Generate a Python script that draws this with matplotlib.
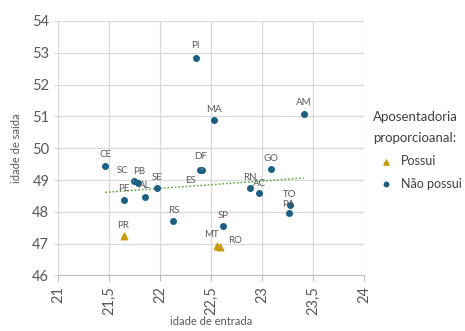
import numpy as np
import matplotlib.pyplot as plt

# ---- data ----
nao_states = ["PI", "MA", "AM", "GO", "CE", "SC", "PB", "SE", "AL", "PE", "DF", "ES",
              "RS", "SP", "RN", "AC", "TO", "PA"]
nao_entrada = [22.35, 22.53, 23.41, 23.09, 21.46, 21.74, 21.78, 21.97, 21.85, 21.64,
               22.41, 22.39, 22.13, 22.62, 22.88, 22.97, 23.27, 23.26]
nao_saida = [52.84, 50.88, 51.09, 49.34, 49.45, 48.96, 48.92, 48.74, 48.48, 48.37,
             49.31, 49.30, 47.70, 47.55, 48.74, 48.59, 48.20, 47.96]

pos_states = ["PR", "MT", "RO"]
pos_entrada = [21.64, 22.56, 22.59]
pos_saida = [47.23, 46.94, 46.89]

xticks = [21, 21.5, 22, 22.5, 23, 23.5, 24]
yticks = [46, 47, 48, 49, 50, 51, 52, 53, 54]

blue = "#1b5f82"
gold = "#c99a0c"
grey = "#595959"

plt.rcParams['font.family'] = ['Lato', 'DejaVu Sans']

fig = plt.figure(figsize=(4.65, 3.31), dpi=100)
ax = fig.add_axes([0.1254, 0.1677, 0.6574, 0.769])

ax.scatter(pos_entrada, pos_saida, marker="^", s=22, color=gold, zorder=3, label="Possui")
ax.scatter(nao_entrada, nao_saida, marker="o", s=16, color=blue, zorder=3, label="Não possui")

# linear trendline over all states
all_x = np.array(nao_entrada + pos_entrada)
all_y = np.array(nao_saida + pos_saida)
z = np.polyfit(all_x, all_y, 1)
p = np.poly1d(z)
xl = np.array([all_x.min(), all_x.max()])
ax.plot(xl, p(xl), linestyle=(0, (1.2, 1.2)), color="#70ad47", lw=1.1, zorder=2)

# data labels (offsets in points)
offsets = {"PI": (0, 9), "MA": (0, 8), "AM": (0, 8), "GO": (0, 8), "CE": (0, 8),
           "PB": (1, 8), "SE": (0, 8), "AL": (0, 8), "PE": (0, 8), "ES": (-7, -7),
           "RS": (0, 8), "SP": (0, 8), "RN": (0, 8), "AC": (0, 7), "TO": (0, 8),
           "PA": (0, 6), "PR": (0, 8), "MT": (-4, 8)}
leaders = {"SC": (-8, 8), "DF": (-1, 10), "RO": (11, 5)}

def label(names, xs, ys):
    for n, x, y in zip(names, xs, ys):
        if n in leaders:
            ax.annotate(n, (x, y), xytext=leaders[n], textcoords="offset points",
                        ha="center", va="center", fontsize=7, color=grey,
                        arrowprops=dict(arrowstyle="-", color="#a6a6a6", lw=0.6,
                                        shrinkA=3, shrinkB=2))
        else:
            dx, dy = offsets[n]
            ax.annotate(n, (x, y), xytext=(dx, dy), textcoords="offset points",
                        ha="center", va="center", fontsize=7, color=grey)

label(nao_states, nao_entrada, nao_saida)
label(pos_states, pos_entrada, pos_saida)

ax.set_xlim(21, 24)
ax.set_ylim(46, 54)
ax.set_xticks(xticks)
ax.set_yticks(yticks)
ax.set_xticklabels([str(t).replace(".", ",") for t in xticks], rotation=90)
ax.grid(True, color="#d9d9d9", lw=0.9)
ax.set_axisbelow(True)
for s in ["top", "right", "left"]:
    ax.spines[s].set_visible(False)
ax.spines["bottom"].set_color("#bfbfbf")
ax.tick_params(axis="x", colors="#bfbfbf", labelcolor=grey, labelsize=10.5, length=4)
ax.tick_params(axis="y", colors="#d9d9d9", labelcolor=grey, labelsize=10.5, length=3)

ax.set_xlabel("idade de entrada", fontsize=8, color=grey, labelpad=1)
ax.set_ylabel("idade de saída", fontsize=8, color=grey, labelpad=7)

leg = fig.legend(handles=ax.collections, labels=["Possui", "Não possui"],
                 title="Aposentadoria\nproporcioanal:", loc="upper left",
                 bbox_to_anchor=(373 / 465, 1 - 111 / 331), frameon=False,
                 fontsize=9, title_fontsize=9.5, handletextpad=0.2, markerscale=0.8,
                 labelspacing=0.85, alignment="left", borderaxespad=0, borderpad=0)
leg.get_title().set_color("#404040")
leg.get_title().set_linespacing(1.95)
for t in leg.get_texts():
    t.set_color("#404040")

fig.savefig("out.png", dpi=100)
